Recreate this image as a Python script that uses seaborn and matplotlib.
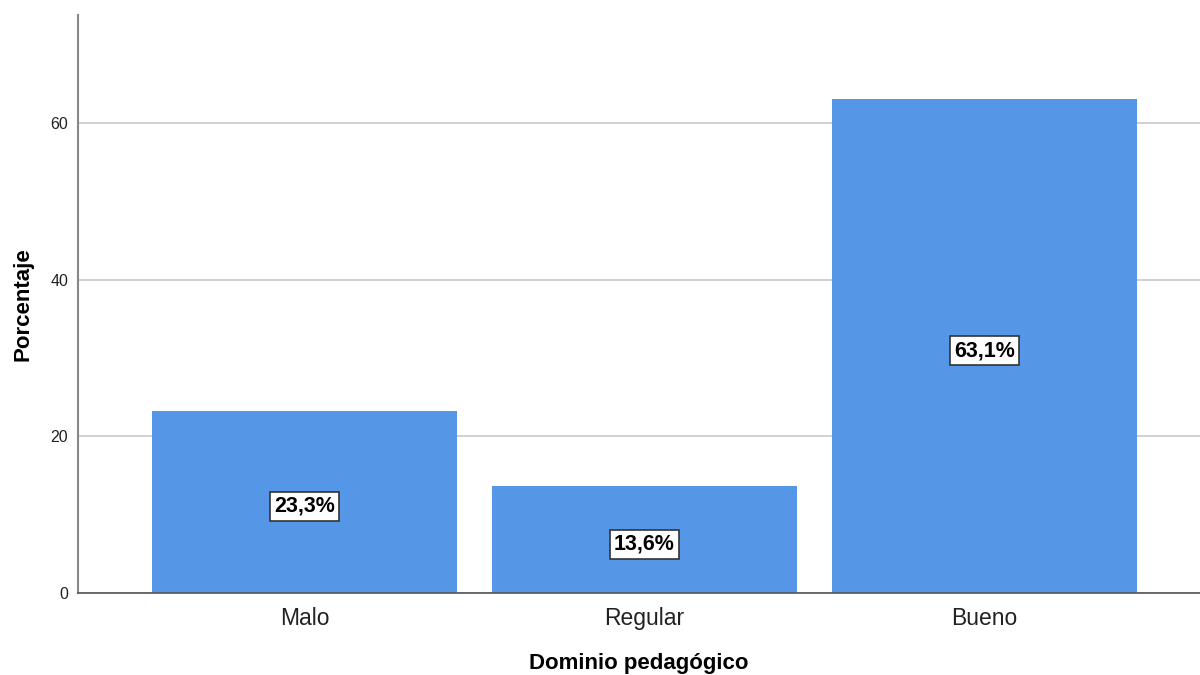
import matplotlib
matplotlib.use("Agg")
import matplotlib.pyplot as plt
import seaborn as sns
import pandas as pd

categories = ["Malo", "Regular", "Bueno"]
values = [23.3, 13.6, 63.1]
labels = ["23,3%", "13,6%", "63,1%"]
yticks = [0, 20, 40, 60]

sns.set_style("white")
plt.rcParams['font.family'] = ['Liberation Sans', 'DejaVu Sans']

df = pd.DataFrame({"cat": categories, "val": values})
fig = plt.figure(figsize=(12, 6.75), dpi=100)
ax = fig.add_axes([0.065, 0.1215, 0.935, 0.8563])
ax.set_axisbelow(True)
ax.yaxis.grid(True, color="#c8c8c8", linewidth=1.2)
sns.barplot(data=df, x="cat", y="val", color="#5596e6", saturation=1, width=0.897, ax=ax, edgecolor="none")

for i, (v, lab) in enumerate(zip(values, labels)):
    ax.text(i, v / 2 - 0.6, lab, ha="center", va="center", fontsize=15.5, fontweight="bold", color="black",
            bbox=dict(boxstyle="square,pad=0.2", facecolor="white", edgecolor="#333333", linewidth=1.2))

ax.set_xlim(-0.666, 2.634)
ax.set_ylim(0, 73.8)
ax.set_yticks(yticks)
ax.set_yticklabels([str(t) for t in yticks], fontsize=11.5, color="#222222")
ax.tick_params(axis="x", labelsize=16.5, colors="#222222", length=0, pad=10)
ax.tick_params(axis="y", length=0, pad=7)
for lab in ax.get_xticklabels():
    lab.set_color("#222222")
ax.set_xlabel("Dominio pedagógico", fontsize=16, fontweight="bold", labelpad=17, color="black")
ax.set_ylabel("Porcentaje", fontsize=16, fontweight="bold", labelpad=12, color="black")
for s in ["top", "right"]:
    ax.spines[s].set_visible(False)
ax.spines["left"].set_color("#888888")
ax.spines["left"].set_linewidth(1.5)
ax.spines["bottom"].set_color("#555555")
ax.spines["bottom"].set_linewidth(1.2)

fig.savefig("out.png", dpi=100)
